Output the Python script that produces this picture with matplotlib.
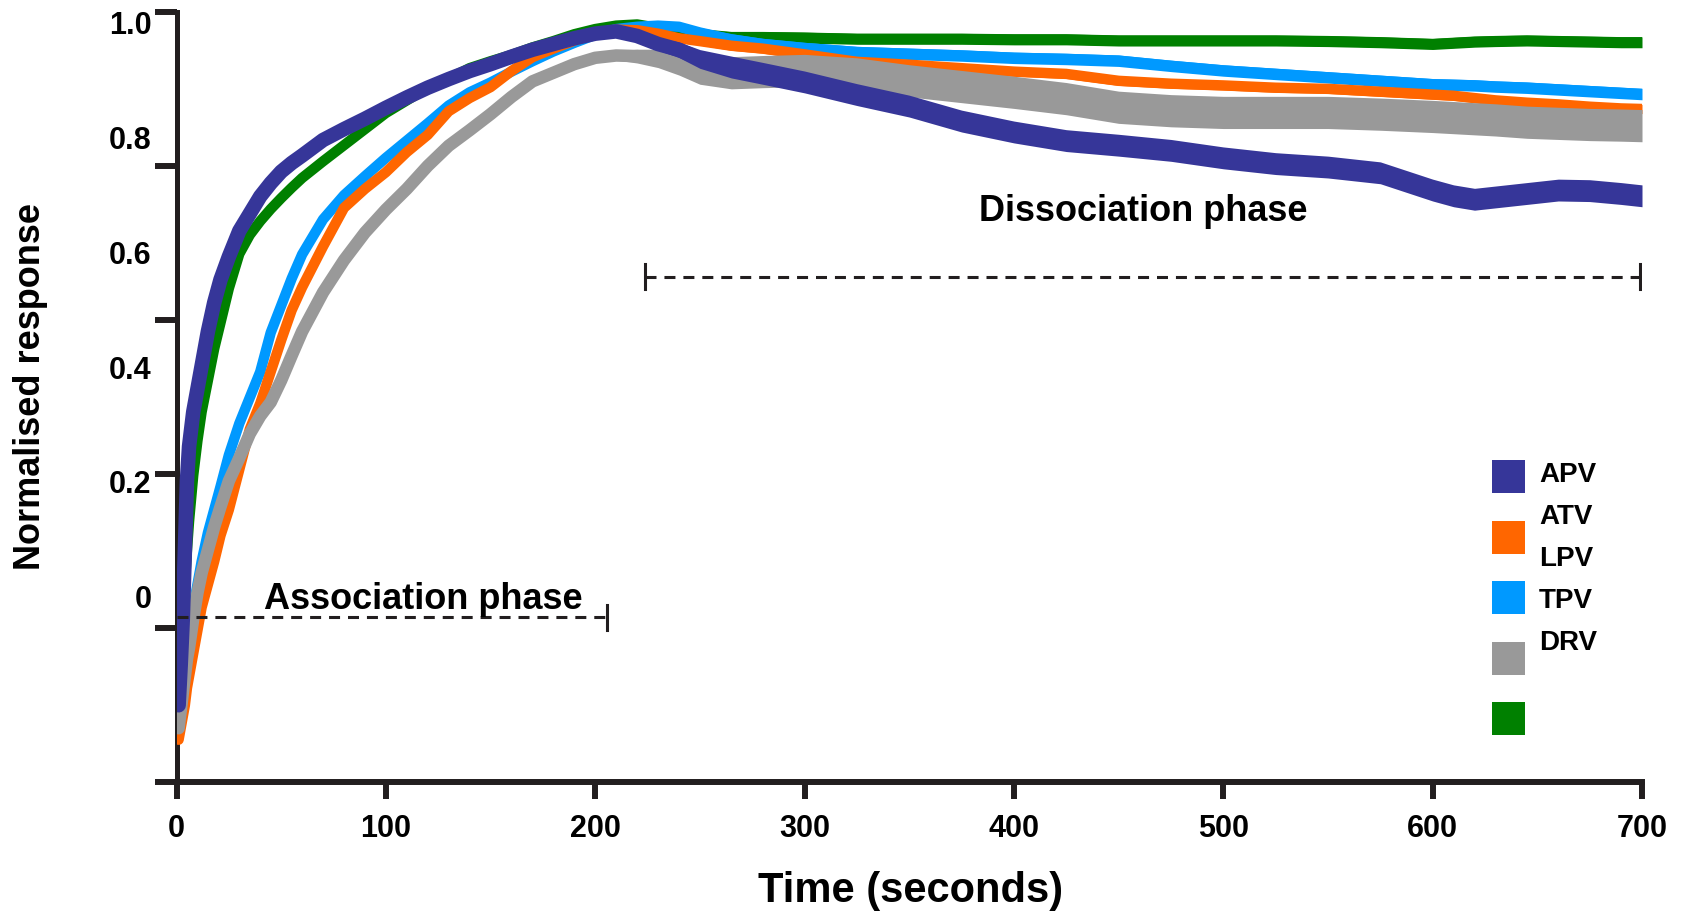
import numpy as np
import matplotlib
matplotlib.use('Agg')
import matplotlib.pyplot as plt
from matplotlib.patches import Rectangle
#
# Bold Arial-like text everywhere
plt.rcParams['font.family'] = ['Liberation Sans', 'DejaVu Sans']
plt.rcParams['font.weight'] = 'bold'
#
# ---------------------------------------------
# data (time in s, normalised response)
#
time_s = [1, 2, 3, 4, 5, 6,
          8, 10, 12, 15, 18, 21, 25,
          30, 35, 40, 45, 50, 55, 60,
          70, 80, 90, 100, 110, 120, 130, 140, 150, 160, 170, 180, 190, 200,
          210, 220, 230, 240, 250, 265, 280, 300,
          325, 350, 375, 400, 425, 450, 475, 500, 525, 550, 575, 600,
          610, 620, 630, 645, 660, 675, 690, 700]

resp_navy = [-0.19, -0.12, -0.04, 0.08, 0.20, 0.26,
             0.32, 0.36, 0.40, 0.46, 0.51, 0.55, 0.59,
             0.635, 0.665, 0.695, 0.718, 0.738, 0.753, 0.766,
             0.793, 0.812, 0.83, 0.849, 0.867, 0.884, 0.899, 0.913, 0.925, 0.938, 0.95, 0.96, 0.97, 0.978,
             0.982, 0.974, 0.96, 0.95, 0.934, 0.92, 0.909, 0.894,
             0.872, 0.852, 0.826, 0.807, 0.792, 0.784, 0.775, 0.762, 0.752, 0.746, 0.736, 0.706,
             0.696, 0.69, 0.694, 0.70, 0.706, 0.705, 0.70, 0.696]

resp_green = [-0.16, -0.10, -0.04, 0.02, 0.08, 0.13,
              0.21, 0.27, 0.32, 0.375, 0.43, 0.475, 0.535,
              0.595, 0.628, 0.652, 0.673, 0.692, 0.71, 0.727,
              0.756, 0.784, 0.812, 0.84, 0.862, 0.884, 0.90, 0.918, 0.93, 0.941, 0.954, 0.965, 0.977, 0.986,
              0.992, 0.994, 0.988, 0.985, 0.977, 0.972, 0.972, 0.971,
              0.969, 0.969, 0.969, 0.968, 0.968, 0.966, 0.966, 0.966, 0.966, 0.965, 0.963, 0.96,
              0.962, 0.964, 0.965, 0.966, 0.965, 0.964, 0.963, 0.963]

resp_sky = [-0.23, -0.20, -0.16, -0.12, -0.09, -0.06,
            -0.02, 0.02, 0.06, 0.11, 0.15, 0.19, 0.245,
            0.30, 0.345, 0.39, 0.458, 0.505, 0.552, 0.594,
            0.655, 0.697, 0.73, 0.762, 0.792, 0.822, 0.853, 0.876, 0.893, 0.912, 0.93, 0.947, 0.962, 0.976,
            0.986, 0.99, 0.992, 0.99, 0.98, 0.968, 0.96, 0.953,
            0.946, 0.943, 0.94, 0.936, 0.934, 0.931, 0.922, 0.914, 0.908, 0.902, 0.896, 0.89,
            0.889, 0.888, 0.886, 0.884, 0.881, 0.878, 0.875, 0.873]

resp_orange = [-0.25, -0.23, -0.21, -0.19, -0.16, -0.14,
               -0.10, -0.06, -0.02, 0.02, 0.06, 0.105, 0.15,
               0.22, 0.29, 0.335, 0.39, 0.445, 0.497, 0.537,
               0.608, 0.675, 0.708, 0.737, 0.772, 0.802, 0.843, 0.866, 0.885, 0.913, 0.937, 0.952, 0.966, 0.978,
               0.985, 0.984, 0.978, 0.97, 0.965, 0.957, 0.952, 0.942,
               0.929, 0.924, 0.918, 0.912, 0.908, 0.896, 0.891, 0.888, 0.884, 0.882, 0.877, 0.872,
               0.87, 0.866, 0.862, 0.858, 0.855, 0.851, 0.848, 0.847]

resp_grey = [-0.23, -0.20, -0.17, -0.14, -0.11, -0.09,
             -0.04, 0.005, 0.04, 0.08, 0.12, 0.155, 0.20,
             0.24, 0.282, 0.313, 0.337, 0.375, 0.418, 0.46,
             0.528, 0.584, 0.632, 0.672, 0.708, 0.748, 0.783, 0.81, 0.838, 0.868, 0.895, 0.91, 0.925, 0.936,
             0.94, 0.939, 0.935, 0.926, 0.914, 0.91, 0.912, 0.914,
             0.908, 0.896, 0.886, 0.876, 0.865, 0.85, 0.844, 0.841, 0.841, 0.841, 0.838, 0.834,
             0.832, 0.83, 0.828, 0.824, 0.822, 0.82, 0.819, 0.818]

legend_labels = ['APV', 'ATV', 'LPV', 'TPV', 'DRV']
y_labels = ['0', '0.2', '0.4', '0.6', '0.8', '1.0']
y_label_values = [0, 0.2, 0.4, 0.6, 0.8, 1.0]
x_ticks = [0, 100, 200, 300, 400, 500, 600, 700]

assoc_phase = (0, 205.7)        # s
dissoc_phase = (223.7, 698.9)   # s
#
# ---------------------------------------------
# styles
#
c_navy, c_orange, c_sky, c_grey, c_green = '#363699', '#ff6600', '#0099ff', '#999999', '#008000'
ink = '#221e1f'
W, H = 1683, 912   # px
#
fig = plt.figure(figsize=(W / 100, H / 100), dpi=100)
ax = fig.add_axes([176.5 / W, 1 - 783 / H, (1642 - 176.5) / W, (783 - 12.7) / H])
ax.set_xlim(0, 700)
ax.set_ylim(-0.3235, 1.0162)
#
for s in ['top', 'right']:
    ax.spines[s].set_visible(False)
ax.spines['left'].set_linewidth(3.6)
ax.spines['bottom'].set_linewidth(4.3)
ax.spines['left'].set_color(ink)
ax.spines['bottom'].set_color(ink)
#
ax.set_xticks(x_ticks)
ax.tick_params(axis='x', length=12.2, width=4.3, pad=10, labelsize=22, color=ink)
#
# the y tick marks and the y tick labels do not line up in the original
ax.set_yticks([-0.3235, -0.0557, 0.2122, 0.4805, 0.7483, 1.0162])
ax.set_yticklabels([])
ax.tick_params(axis='y', which='major', length=15.6, width=4.3, color=ink)
ax.set_yticks(y_label_values, minor=True)
ax.set_yticklabels(y_labels, minor=True)
ax.tick_params(axis='y', which='minor', length=0, pad=18, labelsize=22)
#
# traces : noisy band in the dissociation part + thick line
t = np.array(time_s)
ramp = np.clip((t - 190) / 70, 0, 1)
traces = [(resp_green, c_green, 7.5, 0.0095),
          (resp_sky, c_sky, 7.5, 0.010),
          (resp_orange, c_orange, 7.5, 0.008),
          (resp_grey, c_grey, 9.0, 0.028),
          (resp_navy, c_navy, 10.5, 0.019)]
for k, (vals, col, lw, half) in enumerate(traces):
    v = np.array(vals)
    ax.fill_between(t, v - half * ramp, v + half * ramp, color=col, lw=0, zorder=2 + k)
    ax.plot(t, v, color=col, lw=lw, solid_joinstyle='round', solid_capstyle='round', zorder=2 + k)
#
# phase markers
dash = (0, (3.6, 2.6))
y_a, y_d, bar = -0.037, 0.5553, 0.022
ax.plot(assoc_phase, [y_a, y_a], color=ink, lw=2.2, ls=dash, zorder=10)
ax.plot([assoc_phase[1]] * 2, [y_a - bar, y_a + bar], color=ink, lw=2.2, zorder=10)
ax.plot(dissoc_phase, [y_d, y_d], color=ink, lw=2.2, ls=dash, zorder=10)
for x in dissoc_phase:
    ax.plot([x, x], [y_d - bar, y_d + bar], color=ink, lw=2.2, zorder=10)
ax.text(117.9, -0.0214, 'Association phase', ha='center', va='baseline', fontsize=26, zorder=11)
ax.text(462.0, 0.6544, 'Dissociation phase', ha='center', va='baseline', fontsize=26, zorder=11)
#
# axis titles
fig.text(31 / W, 1 - 386 / H, 'Normalised response', rotation=90, ha='center', va='center', fontsize=26)
fig.text(910.7 / W, 1 - 902 / H, 'Time (seconds)', ha='center', va='baseline', fontsize=30)
#
# legend (squares and labels are offset from each other in the original)
for i, col in enumerate([c_navy, c_orange, c_sky, c_grey, c_green]):
    y0 = 461 + i * 60.6
    fig.add_artist(Rectangle((1492 / W, 1 - (y0 + 33) / H), 33 / W, 33 / H,
                             transform=fig.transFigure, facecolor=col, edgecolor='none'))
for i, lab in enumerate(legend_labels):
    fig.text(1539 / W, 1 - (475 + i * 42) / H, lab, ha='left', va='center', fontsize=20)
#
plt.savefig('out.png', dpi=100)
